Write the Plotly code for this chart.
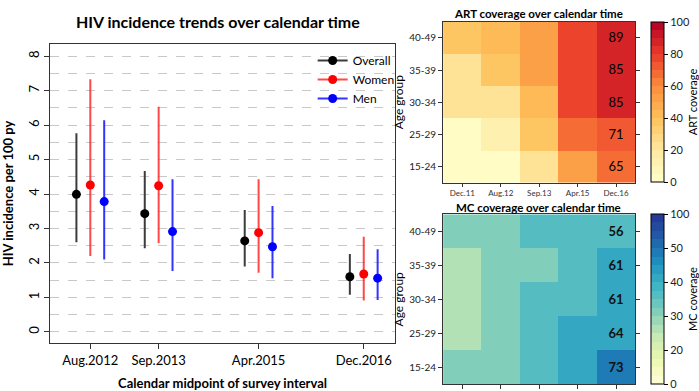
import numpy as np
import plotly.graph_objects as go

# ---------------- data ----------------
survey_dates = [2012.625, 2013.708, 2015.292, 2016.958]
survey_labels = ["Aug.2012", "Sep.2013", "Apr.2015", "Dec.2016"]

overall_est = [3.99, 3.43, 2.64, 1.60]
overall_lo = [2.60, 2.43, 1.90, 1.08]
overall_hi = [5.76, 4.67, 3.54, 2.26]

women_est = [4.26, 4.24, 2.88, 1.68]
women_lo = [2.20, 2.57, 1.72, 0.91]
women_hi = [7.33, 6.53, 4.43, 2.76]

men_est = [3.78, 2.91, 2.47, 1.56]
men_lo = [2.10, 1.77, 1.56, 0.93]
men_hi = [6.14, 4.43, 3.65, 2.40]

heat_cols = ["Dec.11", "Aug.12", "Sep.13", "Apr.15", "Dec.16"]
age_groups = ["15-24", "25-29", "30-34", "35-39", "40-49"]

art_cov = [
    [2, 2, 22, 55, 65],
    [2, 12, 37, 65, 71],
    [22, 22, 42, 78, 85],
    [22, 37, 55, 78, 85],
    [37, 42, 55, 78, 89],
]
art_labels = [65, 71, 85, 85, 89]

mc_cov = [
    [31, 31, 36, 41, 49],
    [26, 31, 36, 41, 41],
    [26, 31, 36, 36, 41],
    [26, 31, 31, 36, 41],
    [31, 31, 36, 36, 36],
]
mc_labels = [73, 64, 61, 61, 56]
mc_breaks = [0, 20, 30, 40, 50, 100]

# ---------------- helpers ----------------
W, H = 699, 391


def px_x(p):
    return p / W


def px_y(p):
    return 1 - p / H


def hex2rgb(h):
    h = h.lstrip("#")
    return tuple(int(h[i:i + 2], 16) for i in (0, 2, 4))


def ramp(anchors, t):
    n = len(anchors) - 1
    pos = t * n
    i = min(int(np.floor(pos)), n - 1)
    f = pos - i
    a, b = hex2rgb(anchors[i]), hex2rgb(anchors[i + 1])
    c = [round(a[k] + (b[k] - a[k]) * f) for k in range(3)]
    return "rgb(%d,%d,%d)" % tuple(c)


def banded(anchors, nb=20):
    cs = []
    for k in range(nb):
        c = ramp(anchors, (k + 0.5) / nb)
        cs.append([k / nb, c])
        cs.append([(k + 1) / nb, c])
    return cs


art_anchors = ["#ffffcc", "#fee8a0", "#fec05a", "#fb8c3c", "#ea3a2a", "#b10026"]
mc_anchors = ["#ffffd9", "#edf8b1", "#c7e9b4", "#7fcdbb", "#41b6c4",
              "#1d91c0", "#225ea8", "#253494"]

FONT = "Lato"
fig = go.Figure()

# ---------------- left panel ----------------
offset = 0.22
series = [
    ("Overall", overall_est, overall_lo, overall_hi, -offset, "black", "#3c3c3c"),
    ("Women", women_est, women_lo, women_hi, 0.0, "#ff0000", "rgba(255,40,40,0.85)"),
    ("Men", men_est, men_lo, men_hi, offset, "#0000ff", "rgba(30,30,255,0.9)"),
]
for name, est, lo, hi, off, col, ecol in series:
    xs = [d + off for d in survey_dates]
    fig.add_trace(go.Scatter(
        x=xs, y=est, mode="markers", showlegend=False,
        marker=dict(color=col, size=9),
        error_y=dict(type="data", symmetric=False,
                     array=[h - e for h, e in zip(hi, est)],
                     arrayminus=[e - l for e, l in zip(est, lo)],
                     color=ecol, thickness=2, width=0),
        xaxis="x", yaxis="y"))
for name, est, lo, hi, off, col, ecol in series:
    fig.add_trace(go.Scatter(
        x=[None], y=[None], mode="lines+markers", name=name,
        line=dict(color=ecol, width=2), marker=dict(color=col, size=9),
        xaxis="x", yaxis="y"))

# ---------------- heatmaps ----------------
art_text = [["" for _ in heat_cols[:-1]] + [str(v)] for v in art_labels]
fig.add_trace(go.Heatmap(
    z=art_cov, x=heat_cols, y=age_groups, zmin=0, zmax=100,
    colorscale=banded(art_anchors), text=art_text, texttemplate="%{text}",
    textfont=dict(size=13, color="black", family=FONT),
    xaxis="x2", yaxis="y2", hoverinfo="skip",
    colorbar=dict(x=px_x(654), xanchor="left", xpad=0, ypad=0,
                  y=px_y(102), yanchor="middle", len=160 / H, lenmode="fraction",
                  thickness=13, outlinewidth=1, outlinecolor="black",
                  ticks="outside", ticklen=4, tickcolor="black",
                  tickvals=[0, 20, 40, 60, 80, 100],
                  tickfont=dict(size=11, color="#222", family=FONT),
                  title=dict(text="ART coverage", side="right",
                             font=dict(size=11, color="black", family=FONT)))))

mc_pos = [[float(np.interp(v, mc_breaks, range(len(mc_breaks)))) for v in row]
          for row in mc_cov]
mc_text = [["" for _ in heat_cols[:-1]] + [str(v)] for v in mc_labels]
fig.add_trace(go.Heatmap(
    z=mc_pos, x=heat_cols, y=age_groups, zmin=0, zmax=len(mc_breaks) - 1,
    colorscale=banded(mc_anchors), text=mc_text, texttemplate="<b>%{text}</b>",
    textfont=dict(size=13, color="#111", family=FONT),
    xaxis="x3", yaxis="y3", hoverinfo="skip",
    colorbar=dict(x=px_x(654), xanchor="left", xpad=0, ypad=0,
                  y=px_y(299), yanchor="middle", len=170 / H, lenmode="fraction",
                  thickness=13, outlinewidth=1, outlinecolor="black",
                  ticks="outside", ticklen=4, tickcolor="black",
                  tickvals=list(range(len(mc_breaks))),
                  ticktext=[str(b) for b in mc_breaks],
                  tickfont=dict(size=11, color="#222", family=FONT),
                  title=dict(text="MC coverage", side="right",
                             font=dict(size=11, color="black", family=FONT)))))

# ---------------- layout ----------------
axis_common = dict(showline=True, linecolor="#333", linewidth=1, ticks="outside",
                   tickcolor="#333", ticklen=5, zeroline=False, automargin=False)

fig.update_layout(
    template="none",
    width=W, height=H, margin=dict(l=0, r=0, t=0, b=0, pad=0), autosize=False,
    paper_bgcolor="white", plot_bgcolor="white",
    font=dict(family=FONT, color="black"),
    showlegend=True,
    legend=dict(x=px_x(314), y=px_y(46), xanchor="left", yanchor="top",
                bgcolor="rgba(0,0,0,0)", font=dict(size=12, family=FONT),
                itemwidth=30, tracegroupgap=0),
    xaxis=dict(domain=[px_x(50), px_x(397)], range=[2011.983, 2017.458],
               tickvals=survey_dates, ticktext=survey_labels, mirror=True,
               showgrid=False, tickfont=dict(size=13, family=FONT),
               title=dict(text="<b>Calendar midpoint of survey interval</b>",
                          font=dict(size=13, family=FONT), standoff=24),
               anchor="y", **axis_common),
    yaxis=dict(domain=[px_y(343), px_y(44)], range=[-0.32, 8.35], dtick=1, tick0=0,
               tickangle=-90, mirror=True, showgrid=True, gridcolor="#c8c8c8",
               griddash="dash", gridwidth=1,
               minor=dict(dtick=0.5, tick0=0, showgrid=True, gridcolor="#c8c8c8",
                          griddash="dash", gridwidth=1, ticks=""),
               tickfont=dict(size=13, family=FONT),
               title=dict(text="<b>HIV incidence per 100 py</b>",
                          font=dict(size=13, family=FONT), standoff=12),
               anchor="x", **axis_common),
    xaxis2=dict(domain=[px_x(445), px_x(638)], anchor="y2", mirror=True,
                showgrid=False, tickfont=dict(size=8, color="#333", family=FONT),
                **{**axis_common, "ticklen": 3}),
    yaxis2=dict(domain=[px_y(182.7), px_y(21.7)], anchor="x2", mirror="ticks",
                showgrid=False, tickfont=dict(size=10, color="#222", family=FONT),
                title=dict(text="Age group", font=dict(size=12, family=FONT), standoff=2),
                **{**axis_common, "ticklen": 4}),
    xaxis3=dict(domain=[px_x(445), px_x(638)], anchor="y3", mirror=True,
                showgrid=False, showticklabels=False,
                **{**axis_common, "ticklen": 4}),
    yaxis3=dict(domain=[px_y(384.3), px_y(214.3)], anchor="x3", mirror="ticks",
                showgrid=False, tickfont=dict(size=10, color="#222", family=FONT),
                title=dict(text="Age group", font=dict(size=12, family=FONT), standoff=2),
                **{**axis_common, "ticklen": 4}),
    annotations=[
        dict(text="<b>HIV incidence trends over calendar time</b>", x=px_x(219), y=px_y(21),
             xref="paper", yref="paper", showarrow=False, xanchor="center", yanchor="middle",
             font=dict(size=16, family=FONT, color="black")),
        dict(text="<b>ART coverage over calendar time</b>", x=px_x(541), y=px_y(13),
             xref="paper", yref="paper", showarrow=False, xanchor="center", yanchor="middle",
             font=dict(size=11.5, family=FONT, color="black")),
        dict(text="<b>MC coverage over calendar time</b>", x=px_x(541), y=px_y(207),
             xref="paper", yref="paper", showarrow=False, xanchor="center", yanchor="middle",
             font=dict(size=11.5, family=FONT, color="black")),
    ],
)

fig.write_html("out.html")
